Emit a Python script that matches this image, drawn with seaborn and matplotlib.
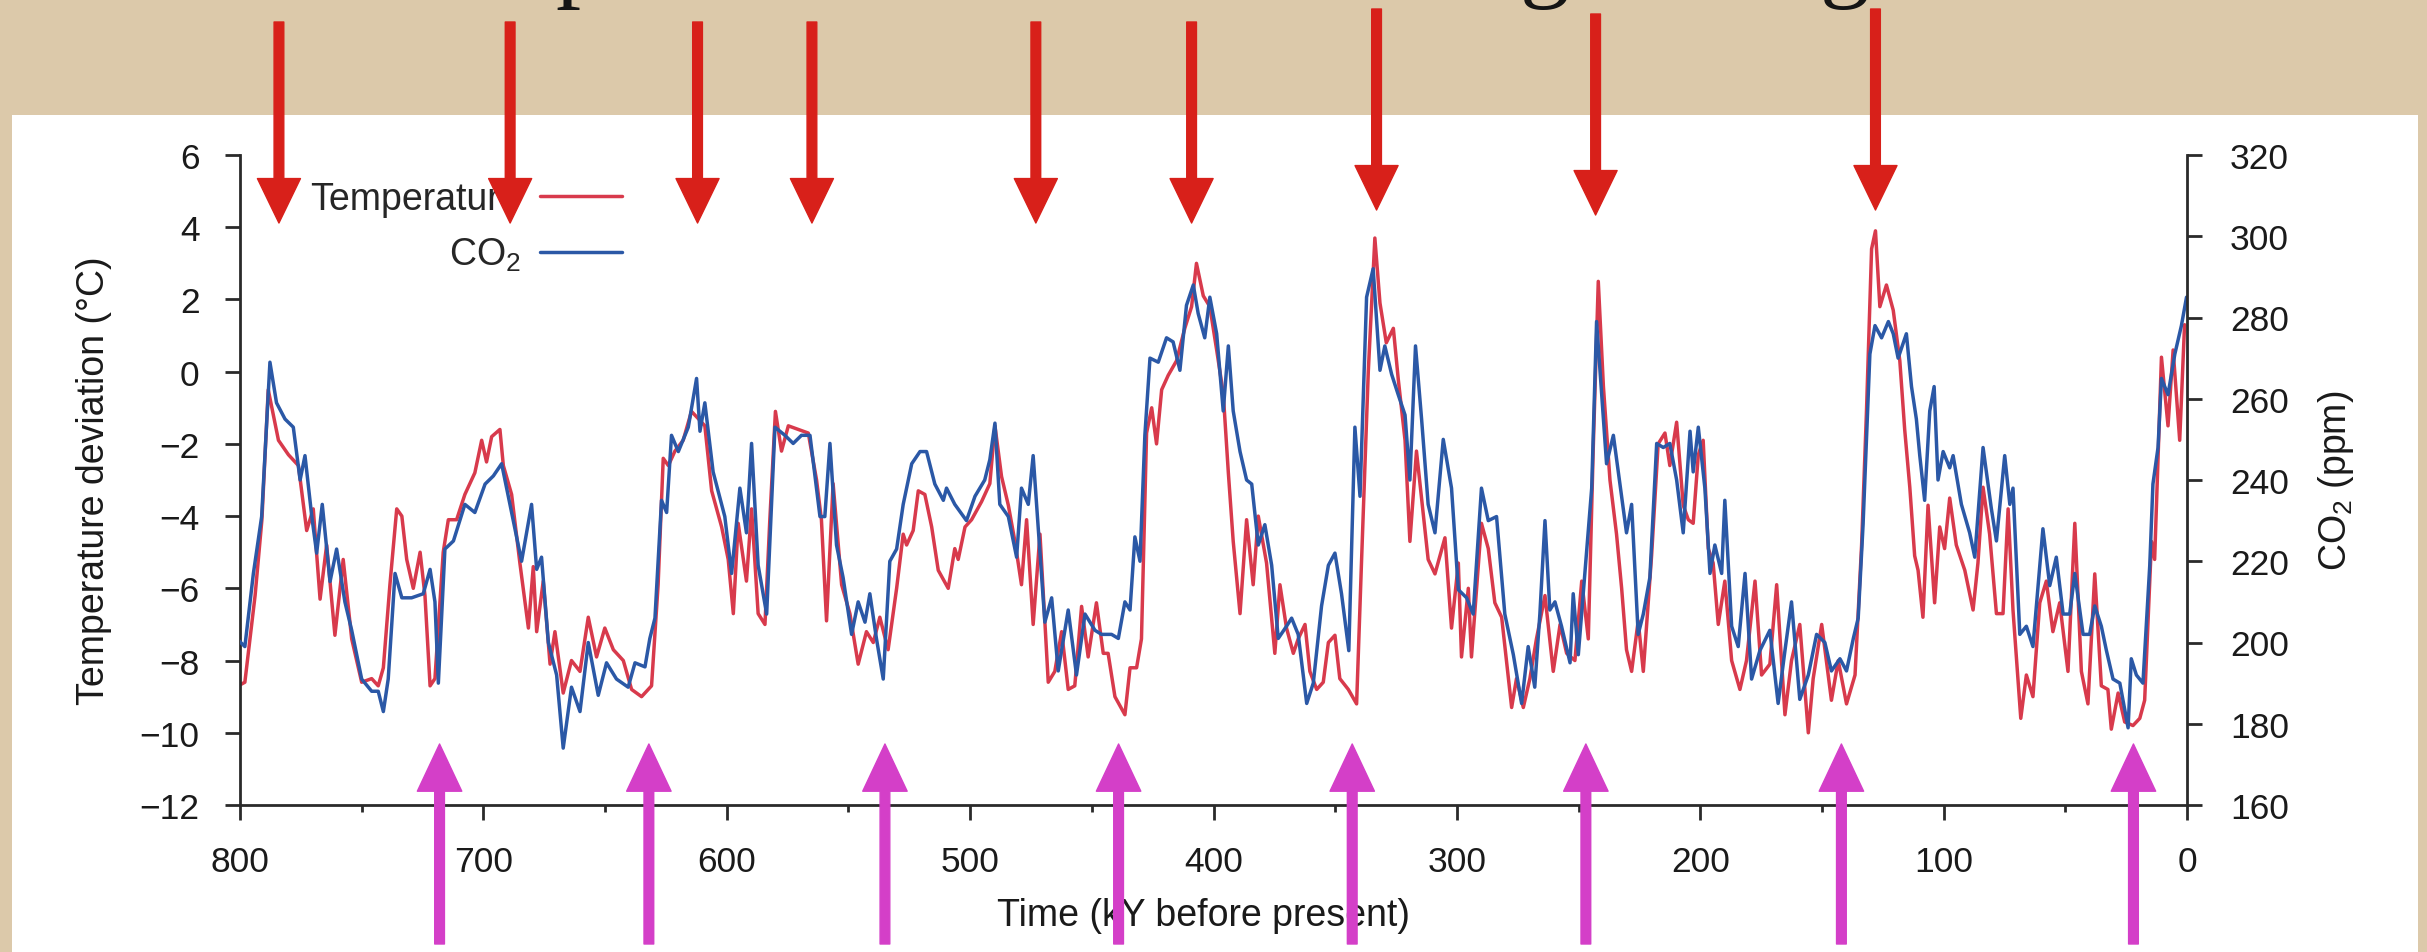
import matplotlib
matplotlib.use("Agg")
import seaborn as sns
import matplotlib.pyplot as plt
from matplotlib.lines import Line2D
from matplotlib.patches import Rectangle

# ---- values (time in kyr before present) ----
temp_age = [800.7, 798.0, 793.8, 791.0, 788.4, 784.2, 780.1, 776.0, 772.6, 769.9,
            767.1, 764.4, 761.0, 757.6, 754.1, 750.0, 745.9, 743.2, 741.1, 738.4,
            735.6, 733.5, 731.5, 728.8, 726.0, 724.0, 721.9, 719.9, 716.5, 714.4,
            711.0, 707.6, 703.5, 700.7, 698.7, 696.6, 693.2, 691.8, 688.4, 685.0,
            681.5, 679.5, 678.1, 675.4, 672.6, 670.6, 667.2, 663.8, 660.3, 656.9,
            653.5, 650.1, 646.6, 642.5, 639.1, 635.0, 630.9, 628.2, 626.1, 624.0,
            621.3, 617.9, 614.5, 611.7, 609.0, 606.2, 602.1, 599.4, 597.3, 595.3,
            591.9, 589.8, 587.1, 584.3, 582.3, 580.0, 577.5, 574.7, 570.6, 566.5,
            563.1, 561.1, 559.0, 556.3, 552.8, 549.4, 546.0, 542.6, 539.8, 537.1,
            533.7, 530.2, 527.5, 526.1, 523.4, 521.3, 518.6, 515.8, 513.1, 509.0,
            506.3, 504.9, 502.1, 499.4, 495.3, 491.9, 489.8, 487.1, 484.3, 481.6,
            478.9, 476.8, 474.1, 471.3, 467.9, 465.2, 462.4, 459.7, 457.0, 454.2,
            451.5, 448.1, 445.3, 443.3, 440.5, 436.4, 434.3, 431.6, 429.6, 427.5,
            425.4, 423.4, 421.3, 418.6, 415.2, 411.8, 409.0, 407.0, 404.2, 401.5,
            398.7, 396.0, 393.9, 391.9, 389.1, 386.4, 383.7, 381.6, 378.2, 374.8,
            372.7, 370.0, 367.2, 365.2, 362.4, 360.4, 357.6, 354.9, 352.8, 350.1,
            348.1, 344.6, 341.2, 339.2, 336.4, 333.7, 331.6, 329.0, 326.1, 324.1,
            321.3, 319.3, 316.6, 314.5, 311.8, 309.0, 304.9, 302.2, 299.4, 298.1,
            295.3, 294.0, 289.9, 287.1, 284.4, 281.6, 277.5, 275.5, 272.7, 270.0,
            267.3, 263.8, 260.4, 257.6, 254.9, 251.5, 248.7, 246.0, 244.0, 241.9,
            239.8, 237.1, 234.4, 232.3, 230.3, 228.2, 225.5, 223.4, 220.0, 217.3,
            214.5, 212.5, 209.7, 207.0, 204.9, 202.9, 200.8, 198.8, 196.7, 194.7,
            192.6, 189.9, 187.1, 183.7, 181.0, 177.5, 174.8, 171.4, 168.6, 165.2,
            162.5, 159.1, 155.6, 153.6, 150.1, 146.1, 143.3, 139.9, 136.4, 133.7,
            131.7, 129.6, 128.0, 126.2, 123.5, 120.7, 118.0, 116.0, 113.9, 111.9,
            110.5, 108.5, 106.4, 103.7, 101.6, 99.6, 97.5, 94.8, 91.3, 87.9,
            85.9, 83.8, 81.1, 78.3, 75.6, 73.5, 71.5, 68.3, 66.0, 63.3,
            60.5, 57.8, 55.1, 52.3, 48.9, 46.1, 43.4, 40.7, 37.9, 35.2,
            32.5, 31.1, 28.3, 25.6, 22.2, 19.4, 17.4, 14.6, 13.3, 10.5,
            7.8, 5.7, 3.0, 1.0]
temp_dev = [-8.7, -8.6, -6.2, -4.1, -0.5, -1.9, -2.3, -2.6, -4.4, -3.8,
            -6.3, -4.8, -7.3, -5.2, -7.4, -8.6, -8.5, -8.7, -8.2, -5.9,
            -3.8, -4.0, -5.2, -6.0, -5.0, -6.2, -8.7, -8.5, -5.0, -4.1,
            -4.1, -3.4, -2.8, -1.9, -2.5, -1.8, -1.6, -2.6, -3.4, -5.3,
            -7.1, -5.4, -7.2, -5.8, -8.1, -7.2, -8.9, -8.0, -8.3, -6.8,
            -7.9, -7.1, -7.7, -8.0, -8.8, -9.0, -8.7, -5.9, -2.4, -2.6,
            -2.2, -1.9, -1.1, -1.3, -1.5, -3.3, -4.3, -5.2, -6.7, -4.2,
            -5.8, -3.8, -6.7, -7.0, -4.1, -1.1, -2.2, -1.5, -1.6, -1.7,
            -3.0, -4.1, -6.9, -3.1, -5.9, -6.7, -8.1, -7.2, -7.5, -6.8,
            -7.7, -6.0, -4.5, -4.8, -4.4, -3.3, -3.4, -4.3, -5.5, -6.0,
            -4.9, -5.2, -4.3, -4.1, -3.6, -3.1, -1.5, -2.9, -3.7, -4.7,
            -5.9, -4.1, -7.0, -4.5, -8.6, -8.3, -7.2, -8.8, -8.7, -6.5,
            -7.9, -6.4, -7.8, -7.8, -9.0, -9.5, -8.2, -8.2, -7.4, -1.7,
            -1.0, -2.0, -0.5, -0.1, 0.3, 1.2, 1.8, 3.0, 2.1, 1.8,
            0.6, -0.6, -2.8, -4.7, -6.7, -4.1, -5.9, -4.0, -5.3, -7.8,
            -5.9, -7.1, -7.8, -7.4, -7.0, -8.3, -8.8, -8.6, -7.5, -7.3,
            -8.5, -8.8, -9.2, -5.3, 0.0, 3.7, 1.9, 0.8, 1.2, -0.2,
            -1.9, -4.7, -2.2, -3.5, -5.2, -5.6, -4.6, -7.1, -5.3, -7.9,
            -6.0, -7.9, -4.2, -4.9, -6.4, -6.8, -9.3, -8.5, -9.3, -8.5,
            -7.4, -6.2, -8.3, -7.0, -7.8, -8.0, -5.8, -7.4, -2.2, 2.5,
            -0.4, -3.0, -4.5, -6.0, -7.7, -8.3, -6.9, -8.3, -5.1, -2.0,
            -1.7, -2.6, -1.4, -3.7, -4.1, -4.2, -2.3, -1.9, -4.9, -5.3,
            -7.0, -5.8, -8.0, -8.8, -8.0, -5.8, -8.4, -8.1, -5.9, -9.5,
            -8.0, -7.0, -10.0, -8.5, -7.0, -9.1, -8.0, -9.2, -8.4, -4.8,
            -1.1, 3.4, 3.9, 1.8, 2.4, 1.7, 0.3, -1.6, -3.2, -5.1,
            -5.5, -6.8, -3.7, -6.4, -4.3, -4.9, -3.5, -4.8, -5.5, -6.6,
            -5.3, -3.2, -4.5, -6.7, -6.7, -3.8, -6.6, -9.6, -8.4, -9.0,
            -6.4, -5.8, -7.2, -6.4, -8.3, -4.2, -8.3, -9.2, -5.6, -8.7,
            -8.8, -9.9, -8.9, -9.7, -9.8, -9.6, -9.1, -4.7, -5.2, 0.4,
            -1.5, 0.6, -1.9, 1.3]

co2_age = [801.4, 798.0, 794.5, 791.1, 787.7, 785.0, 781.5, 778.1, 775.3, 773.3,
           770.5, 768.5, 766.2, 763.0, 760.3, 756.9, 754.1, 750.0, 745.9, 743.2,
           741.1, 739.1, 736.3, 733.5, 729.5, 724.7, 721.9, 719.9, 718.5, 715.8,
           712.3, 707.6, 703.5, 699.3, 695.9, 692.5, 688.4, 684.3, 680.2, 678.1,
           676.1, 673.3, 669.9, 667.2, 663.8, 660.3, 656.9, 652.8, 649.4, 645.3,
           640.5, 637.7, 633.6, 631.6, 629.5, 626.8, 624.7, 622.7, 619.9, 615.8,
           612.4, 611.0, 609.0, 605.6, 600.8, 598.0, 594.6, 591.9, 589.8, 587.1,
           583.6, 580.2, 576.1, 572.7, 569.3, 565.8, 561.7, 559.7, 557.6, 554.9,
           552.2, 548.7, 546.0, 543.2, 541.2, 538.5, 535.7, 533.0, 530.2, 527.5,
           524.0, 520.6, 517.9, 514.5, 511.0, 509.7, 506.3, 501.5, 498.0, 494.0,
           491.9, 489.8, 487.8, 484.3, 480.9, 478.9, 476.1, 474.1, 472.0, 469.3,
           466.5, 463.8, 459.7, 456.3, 452.8, 448.7, 446.0, 441.9, 439.1, 436.4,
           434.3, 432.3, 430.2, 428.2, 426.1, 422.7, 419.3, 416.6, 413.8, 411.1,
           408.3, 406.3, 403.6, 401.5, 398.7, 396.0, 393.9, 391.9, 389.1, 386.4,
           384.3, 381.6, 378.9, 376.1, 373.4, 370.0, 367.9, 365.2, 361.7, 359.0,
           355.6, 352.8, 350.1, 347.4, 344.4, 341.9, 339.8, 337.1, 334.4, 331.6,
           329.6, 326.8, 324.1, 321.3, 319.3, 317.0, 314.5, 311.8, 309.0, 305.6,
           302.2, 299.4, 296.0, 293.3, 289.9, 287.1, 283.7, 280.3, 276.8, 273.4,
           270.7, 268.0, 265.9, 263.8, 261.8, 259.7, 257.0, 253.5, 252.2, 250.1,
           247.4, 244.6, 242.6, 240.5, 238.5, 235.7, 233.7, 230.3, 228.2, 225.5,
           223.4, 220.7, 217.9, 215.2, 212.5, 209.7, 207.0, 204.2, 202.9, 200.8,
           198.1, 196.0, 194.0, 191.2, 189.9, 187.1, 184.4, 181.6, 178.9, 175.5,
           171.4, 168.0, 165.2, 162.5, 159.1, 155.6, 152.2, 148.8, 146.1, 142.6,
           139.9, 137.1, 135.1, 133.1, 130.3, 128.2, 125.5, 122.7, 120.7, 118.7,
           115.3, 113.2, 111.2, 109.8, 107.8, 105.7, 103.9, 102.3, 100.2, 97.5,
           96.1, 92.7, 89.3, 87.2, 83.8, 80.4, 78.3, 74.9, 72.8, 71.5,
           68.7, 66.0, 63.3, 59.2, 56.4, 53.7, 50.9, 48.2, 46.1, 42.7,
           40.0, 37.9, 35.2, 33.1, 30.4, 27.6, 24.2, 22.9, 20.8, 18.1,
           15.3, 14.0, 11.9, 10.5, 7.8, 5.0, 2.3, 0.2]
co2_ppm = [201, 199, 217, 231, 269, 259, 255, 253, 240, 246,
           231, 222, 234, 215, 223, 210, 203, 191, 188, 188,
           183, 191, 217, 211, 211, 212, 218, 210, 190, 223,
           225, 234, 232, 239, 241, 244, 232, 220, 234, 218,
           221, 200, 192, 174, 189, 183, 200, 187, 195, 191,
           189, 195, 194, 201, 206, 235, 232, 251, 247, 253,
           265, 252, 259, 242, 231, 217, 238, 227, 249, 219,
           207, 253, 251, 249, 251, 251, 231, 231, 249, 224,
           216, 202, 210, 205, 212, 201, 191, 220, 223, 234,
           244, 247, 247, 239, 235, 238, 234, 230, 236, 240,
           245, 254, 234, 231, 221, 238, 234, 246, 228, 205,
           211, 193, 208, 192, 207, 203, 202, 202, 201, 210,
           208, 226, 220, 251, 270, 269, 275, 274, 267, 283,
           288, 281, 275, 285, 276, 257, 273, 257, 247, 240,
           239, 224, 229, 219, 201, 204, 206, 202, 185, 190,
           209, 219, 222, 212, 198, 253, 236, 285, 292, 267,
           273, 266, 261, 256, 240, 273, 255, 234, 227, 250,
           238, 213, 211, 207, 238, 230, 231, 207, 197, 185,
           199, 189, 207, 230, 208, 210, 204, 195, 212, 197,
           217, 238, 279, 261, 244, 251, 242, 227, 234, 202,
           207, 216, 249, 248, 249, 240, 227, 252, 242, 253,
           238, 217, 224, 217, 235, 204, 199, 217, 191, 198,
           203, 185, 198, 210, 186, 192, 202, 200, 193, 196,
           193, 201, 206, 229, 271, 278, 275, 279, 276, 270,
           276, 263, 255, 246, 235, 257, 263, 240, 247, 243,
           246, 234, 227, 221, 248, 233, 225, 246, 234, 238,
           202, 204, 199, 228, 214, 221, 207, 207, 217, 202,
           202, 209, 204, 198, 191, 190, 179, 196, 192, 190,
           219, 239, 248, 265, 261, 271, 278, 285]

warm_peaks = [784, 689, 612, 565, 473, 409, 333, 243, 128]   # red arrows
cold_troughs = [718, 632, 535, 439, 343, 247, 142, 22]       # magenta arrows

# arrow geometry, figure pixels from the bottom edge
red_tip = [729, 729, 729, 729, 729, 729, 742, 737, 742]
red_tail = [930, 930, 930, 930, 930, 930, 943, 938, 943]

W, H = 2427, 953
red = "#d83a4c"
blue = "#2b58a6"
ink = "#2a2a2a"

sns.set_style("ticks")
plt.rcParams["font.family"] = ["Liberation Sans", "DejaVu Sans"]
plt.rcParams["mathtext.default"] = "regular"

fig = plt.figure(figsize=(W / 100, H / 100), dpi=100, facecolor="#dcc9aa")
fig.patches.append(Rectangle((12 / W, 0), 2406 / W, 837 / H, transform=fig.transFigure,
                             facecolor="white", edgecolor="none", zorder=-1))

# bits of the slide title that stick in from above the crop
for ch, x in [("p", 580), ("g", 1545), ("g", 1845)]:
    fig.text(x / W, 1 - 10 / H, ch, family=["Liberation Serif"], fontsize=72,
             ha="center", va="bottom", color="#151515")

ax = fig.add_axes([240 / W, 147 / H, 1947 / W, 650 / H])
ax.set_facecolor("none")
ax2 = ax.twinx()

sns.lineplot(x=temp_age, y=temp_dev, ax=ax, color=red, linewidth=2.5, legend=False)
sns.lineplot(x=co2_age, y=co2_ppm, ax=ax2, color=blue, linewidth=2.5, legend=False)

ax.set_xlim(800, 0)
ax.set_ylim(-12, 6)
ax2.set_ylim(160, 320)
ax.set_xticks(range(800, -1, -100))
ax.set_xticks(range(750, 0, -100), minor=True)
ax.set_yticks(range(-12, 7, 2))
ax2.set_yticks(range(160, 321, 20))

for a in (ax, ax2):
    a.spines["top"].set_visible(False)
    for s in a.spines.values():
        s.set_linewidth(2)
        s.set_color(ink)
ax.spines["right"].set_visible(False)
ax2.spines["left"].set_visible(False)
ax2.spines["bottom"].set_visible(False)

ax.tick_params(axis="both", which="major", length=11, width=2, pad=18,
               labelsize=25.5, color=ink, labelcolor="#1a1a1a")
ax.tick_params(axis="x", which="minor", length=5, width=2, color=ink)
ax2.tick_params(axis="y", length=11, width=2, pad=20, labelsize=25.5,
                color=ink, labelcolor="#1a1a1a")

ax.set_xlabel("Time (kY before present)", fontsize=27, color="#1a1a1a")
ax.xaxis.set_label_coords(0.495, -0.142)
ax.set_ylabel("Temperature deviation (°C)", fontsize=27, color="#1a1a1a")
ax.yaxis.set_label_coords(-0.0655, 0.5)
ax2.set_ylabel("CO$_2$ (ppm)", fontsize=27, color="#1a1a1a")
ax2.yaxis.set_label_coords(1.066, 0.5)

handles = [Line2D([], [], color=red, lw=2.5), Line2D([], [], color=blue, lw=2.5)]
ax.legend(handles, ["Temperature", "CO$_2$"], loc="upper right",
          bbox_to_anchor=(622 / W, 1 - 182 / H), bbox_transform=fig.transFigure,
          frameon=False, markerfirst=False, fontsize=27, handlelength=2.2,
          handletextpad=0.5, labelspacing=0.5, borderpad=0, borderaxespad=0)

for t, tip, tail in zip(warm_peaks, red_tip, red_tail):
    ax2.annotate("", xy=(t, tip), xycoords=("data", "figure pixels"),
                 xytext=(t, tail), textcoords=("data", "figure pixels"),
                 arrowprops=dict(color="#d8201a", width=7, headwidth=31,
                                 headlength=32, shrink=0),
                 annotation_clip=False, zorder=10)

for t in cold_troughs:
    ax2.annotate("", xy=(t, 208), xycoords=("data", "figure pixels"),
                 xytext=(t, 8), textcoords=("data", "figure pixels"),
                 arrowprops=dict(color="#d43fc8", width=7, headwidth=32,
                                 headlength=34, shrink=0),
                 annotation_clip=False, zorder=10)

fig.savefig("out.png", dpi=100, facecolor=fig.get_facecolor())
